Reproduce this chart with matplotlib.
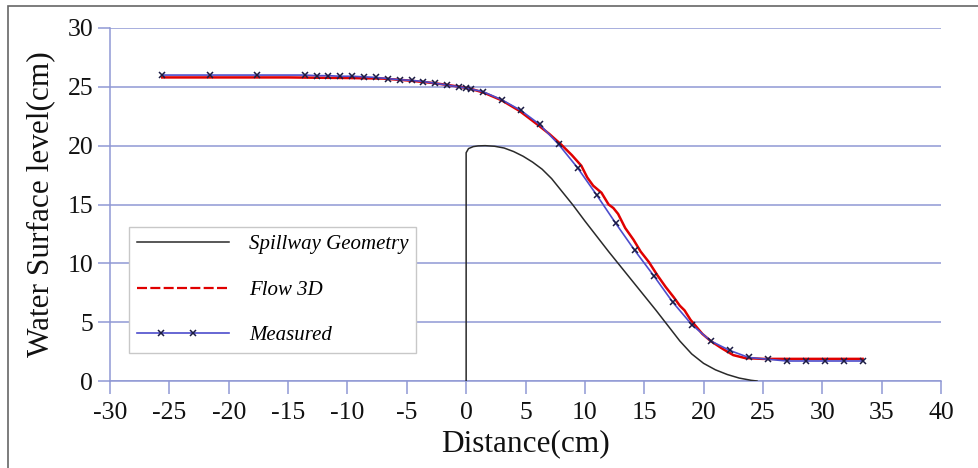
import matplotlib
matplotlib.use("Agg")
import numpy as np
import matplotlib.pyplot as plt
from matplotlib import font_manager
from matplotlib.lines import Line2D
from matplotlib.patches import Rectangle

# ---- data ----
spill_x = [0, 0, 0.2, 0.6, 1.0, 1.6, 2.4, 3.2, 4.0, 4.8, 5.6, 6.4, 7.2, 8.0, 9.0, 10.0,
           11.0, 12.0, 13.0, 14.0, 15.0, 16.0, 17.0, 18.0, 19.0, 20.0, 21.0, 22.0, 23.0, 24.0, 24.5]
spill_y = [0, 19.4, 19.75, 19.92, 19.98, 20.0, 19.95, 19.8, 19.5, 19.1, 18.6, 18.0, 17.2, 16.2, 14.95, 13.6,
           12.3, 11.0, 9.75, 8.5, 7.25, 6.0, 4.7, 3.4, 2.3, 1.5, 0.95, 0.55, 0.25, 0.06, 0.0]

flow_x = [-25.6, -20, -15, -10, -7, -5, -3, -1.5, -0.5, 0.5, 1.5, 3.0, 4.5, 6.0, 7.0, 8.0,
          8.9, 9.7, 10.2, 10.7, 11.4, 12.0, 12.4, 12.8, 13.4, 14.1, 14.7, 15.4, 16.1, 16.8,
          17.5, 18.0, 18.4, 18.9, 19.4, 19.9, 20.6, 21.5, 22.5, 23.5, 25.0, 28.0, 33.4]
flow_y = [25.8, 25.8, 25.8, 25.75, 25.7, 25.55, 25.35, 25.15, 25.0, 24.8, 24.5, 23.85, 22.95, 21.8, 21.0, 20.1,
          19.2, 18.3, 17.3, 16.6, 16.0, 15.0, 14.7, 14.2, 13.0, 12.0, 11.0, 10.1, 9.0, 8.0,
          7.1, 6.4, 6.0, 5.2, 4.6, 4.0, 3.4, 2.8, 2.2, 1.95, 1.88, 1.88, 1.88]

meas_x = [-25.6, -21.6, -17.6, -13.6, -12.6, -11.6, -10.6, -9.6, -8.6, -7.6, -6.6, -5.6, -4.6,
          -3.6, -2.6, -1.6, -0.6, 0.0, 0.4, 1.4, 3.0, 4.6, 6.2, 7.8, 9.4, 11.0, 12.6, 14.2,
          15.8, 17.4, 19.0, 20.6, 22.2, 23.8, 25.4, 27.0, 28.6, 30.2, 31.8, 33.4]
meas_y = [26.0, 26.0, 26.0, 26.0, 25.95, 25.95, 25.9, 25.9, 25.85, 25.8, 25.7, 25.6, 25.55,
          25.45, 25.3, 25.15, 25.0, 24.9, 24.8, 24.6, 23.9, 23.0, 21.8, 20.1, 18.1, 15.8, 13.4, 11.1,
          8.95, 6.7, 4.8, 3.4, 2.6, 2.0, 1.85, 1.7, 1.7, 1.7, 1.7, 1.7]

x_ticks = [-30, -25, -20, -15, -10, -5, 0, 5, 10, 15, 20, 25, 30, 35, 40]
y_ticks = [0, 5, 10, 15, 20, 25, 30]
labels = ["Spillway Geometry", "Flow 3D", "Measured"]

# ---- font: Times-like serif ----
names = {f.name for f in font_manager.fontManager.ttflist}
serif = 'Liberation Serif' if 'Liberation Serif' in names else 'DejaVu Serif'
plt.rcParams['font.family'] = [serif, 'DejaVu Serif']
tick_fp = font_manager.FontProperties(family=[serif, 'DejaVu Serif'], size=18.5)
lab_fp = font_manager.FontProperties(family=[serif, 'DejaVu Serif'], size=22.5)
leg_fp = font_manager.FontProperties(family=[serif, 'DejaVu Serif'], style='italic', size=15)

grid_c = '#8f98d4'
blue_c = '#4d4dcc'
red_c = '#e00000'
black_c = '#2a2a2a'

fig = plt.figure(figsize=(9.79, 4.68), dpi=100)
ax = fig.add_axes([110/979, 1-381/468, (941-110)/979, (381-28)/468])

ax.plot(spill_x, spill_y, color=black_c, lw=1.1, zorder=3)
ax.plot(flow_x, flow_y, color=red_c, lw=1.8, zorder=3.5)
ax.plot(meas_x, meas_y, color=blue_c, lw=1.2, marker='x', ms=5, mew=1.1,
        mec='#1c1c44', zorder=4)

ax.set_xlim(-30, 40)
ax.set_ylim(0, 30)
ax.set_xticks(x_ticks)
ax.set_yticks(y_ticks)
ax.set_xticklabels([str(t) for t in x_ticks], fontproperties=tick_fp)
ax.set_yticklabels([str(t) for t in y_ticks], fontproperties=tick_fp)
ax.grid(axis='y', color=grid_c, lw=1.1)
ax.set_axisbelow(True)
for s in ['top', 'right']:
    ax.spines[s].set_visible(False)
for s in ['left', 'bottom']:
    ax.spines[s].set_color(grid_c)
    ax.spines[s].set_linewidth(1.1)
ax.tick_params(axis='both', colors=grid_c, labelcolor='#111111',
               length=9, width=1.1)
ax.tick_params(axis='x', pad=6)
ax.tick_params(axis='y', pad=3)

ax.set_xlabel("Distance(cm)", fontproperties=lab_fp, labelpad=4, color='#111111')
ax.set_ylabel("Water Surface level(cm)", fontproperties=lab_fp, labelpad=9, color='#111111')

handles = [
    Line2D([], [], color=black_c, lw=1.1),
    Line2D([], [], color=red_c, lw=1.6, ls=(0, (4.5, 1.5))),
    Line2D([], [], color=blue_c, lw=1.2, marker='x', ms=5, mew=1.1, mec='#1c1c44'),
]
leg = ax.legend(handles, labels, loc='upper left', bbox_to_anchor=(0.023, 0.436),
                borderaxespad=0, numpoints=1, handlelength=4.45, handletextpad=0.95,
                labelspacing=1.25, borderpad=0.36, fancybox=False, framealpha=1,
                edgecolor='#c8c8c8', prop=leg_fp)
leg.get_frame().set_linewidth(1.0)
mh = leg.legend_handles[2]
xd = np.asarray(mh.get_xdata(), dtype=float)
yd = np.asarray(mh.get_ydata(), dtype=float)
x0, x1 = xd[0], xd[-1]
mh.set_xdata(x0 + (x1 - x0) * np.array([0.0, 0.26, 0.61, 1.0]))
mh.set_ydata(np.full(4, yd[0]))
mh.set_markevery([1, 2])

# outer border
fig.patches.append(Rectangle((8/979, -0.1), 1.2, 1 - 6/468 + 0.1, transform=fig.transFigure,
                             fill=False, edgecolor='#666666', lw=1.2))

fig.savefig("out.png", dpi=100)
